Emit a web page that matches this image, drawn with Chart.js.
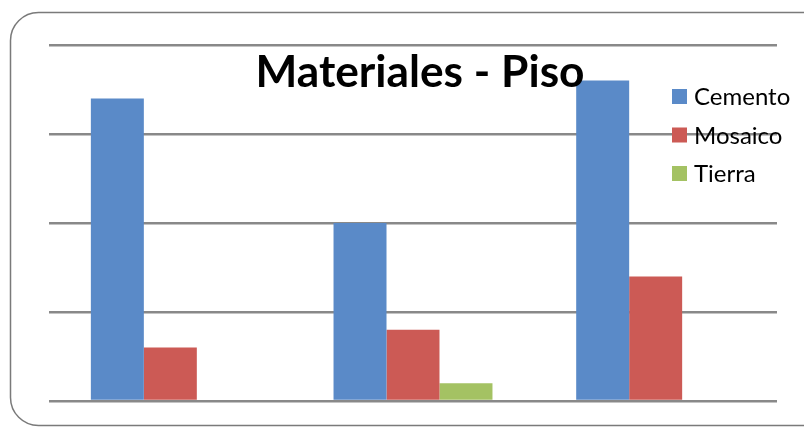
<!DOCTYPE html>
<html>
<head>
<meta charset="utf-8">
<script src="https://cdn.jsdelivr.net/npm/chart.js@4/dist/chart.umd.min.js"></script>
<style>
  html, body { margin: 0; padding: 0; background: #fff; }
  #wrap { width: 804px; height: 428px; }
</style>
</head>
<body>
<div id="wrap"><canvas id="chart" width="804" height="428"></canvas></div>
<script>
  const categories = ["1", "2", "3"];
  const seriesNames = ["Cemento", "Mosaico", "Tierra"];
  const cemento = [17, 10, 18];
  const mosaico = [3, 4, 7];
  const tierra = [0, 1, 0];
  const yMax = 20;
  const yStep = 5;
  const colors = ["#5a8ac8", "#cc5a55", "#a4c263"];

  const frame = {
    id: "frame",
    beforeDraw(chart) {
      const ctx = chart.ctx;
      ctx.save();
      ctx.fillStyle = "#fff";
      ctx.fillRect(0, 0, chart.width, chart.height);
      ctx.strokeStyle = "#7a7a7a";
      ctx.lineWidth = 1.5;
      ctx.beginPath();
      ctx.roundRect(10.5, 12.5, 840, 413, 28);
      ctx.stroke();
      ctx.restore();
    },
  };

  // title and legend sit over the plot area, like the original
  const overlay = {
    id: "overlay",
    afterDraw(chart) {
      const ctx = chart.ctx;
      ctx.save();
      ctx.fillStyle = "#000";
      ctx.font = "bold 43px Lato";
      ctx.textBaseline = "alphabetic";
      const title = "Materiales - Piso";
      const w = ctx.measureText(title).width;
      const sx = 329 / w;
      ctx.translate(420, 87);
      ctx.scale(sx, 1);
      ctx.textAlign = "center";
      ctx.fillText(title, 0, 0);
      ctx.restore();

      ctx.save();
      ctx.font = "24px Lato";
      ctx.textAlign = "left";
      chart.data.datasets.forEach((ds, i) => {
        const base = 105 + i * 38.5;
        ctx.fillStyle = ds.backgroundColor;
        ctx.fillRect(672, base - 16, 15, 15);
        ctx.fillStyle = "#000";
        ctx.fillText(ds.label, 694, base);
      });
      ctx.restore();
    },
  };

  new Chart(document.getElementById("chart"), {
    type: "bar",
    data: {
      labels: categories,
      datasets: [cemento, mosaico, tierra].map((values, i) => ({
        label: seriesNames[i],
        data: values,
        backgroundColor: colors[i],
        borderWidth: 0,
        categoryPercentage: 0.655,
        barPercentage: 1,
      })),
    },
    options: {
      responsive: false,
      animation: false,
      layout: { padding: { left: 49, right: 27, top: 45, bottom: 27 } },
      plugins: { legend: { display: false }, title: { display: false }, tooltip: { enabled: false } },
      scales: {
        x: { display: false },
        y: {
          min: 0,
          max: yMax,
          ticks: { stepSize: yStep, display: false },
          border: { display: false },
          grid: { color: "#898989", lineWidth: 2.5, drawTicks: false },
        },
      },
    },
    plugins: [frame, overlay],
  });
</script>
</body>
</html>
